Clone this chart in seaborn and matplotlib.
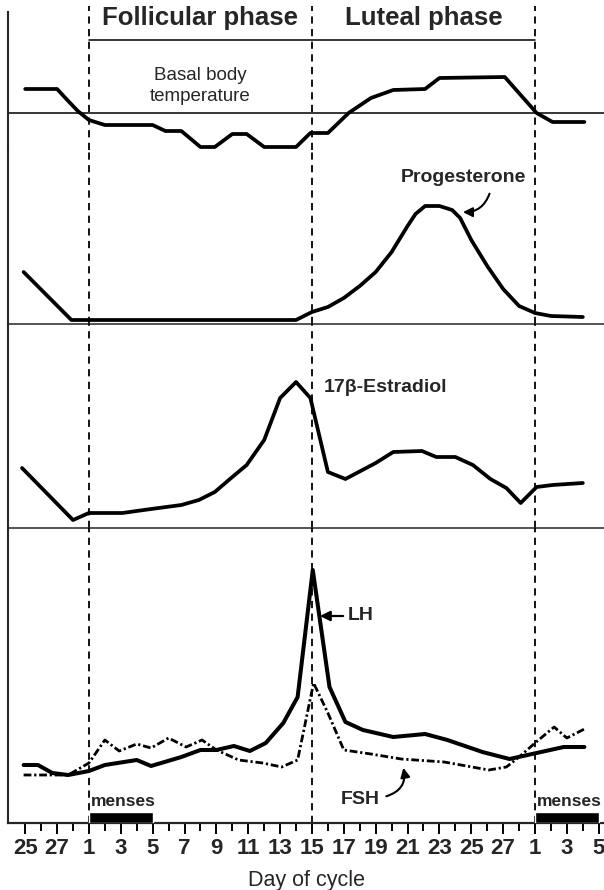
import numpy as np
import pandas as pd
import matplotlib.pyplot as plt
import seaborn as sns

# day axis: previous cycle 25..28 -> -3..0, this cycle 1..28, next cycle 1..5 -> 29..33
day_ticks = list(range(-3, 34))
label_ticks = list(range(-3, 34, 2))
tick_labels = ['25', '27'] + [str(d) for d in range(1, 28, 2)] + ['1', '3', '5']

phase_days = [1, 15, 29]
phase_names = ['Follicular phase', 'Luteal phase']
menses_start = [1, 29]
menses_len = 4

# basal body temperature, relative to the reference line
temp_day = [-3, -1, -0.3, 0.3, 1, 2, 5, 5.8, 6.8, 8, 8.9, 10, 10.9, 12, 14, 14.9, 16,
            17.3, 18.7, 20.1, 22.1, 23, 27.1, 29.1, 30.1, 32.1]
temp_val = [24, 24, 12, 2, -7, -12, -12, -18, -18, -34, -34, -21, -21, -34, -34, -20, -20,
            0, 15, 23, 24, 35, 36, 0, -9, -9]

# progesterone
prog_day = [-3.1, -0.1, 14, 15, 16, 17, 18, 19, 20, 21, 21.5, 22.1, 23, 23.8, 24.3, 25, 26,
            27, 28, 29, 30, 32]
prog_val = [52, 4, 4, 12, 17, 26, 38, 52, 72, 98, 110, 118, 118, 114, 106, 84, 58, 35, 18,
            11, 8, 7]

# 17b-estradiol
e2_day = [-3.2, 0, 1, 3.1, 4.9, 6.8, 7.9, 8.9, 10, 10.9, 12, 13, 14, 14.9, 16, 17.1, 19,
          20.1, 21.9, 22.8, 24, 25.1, 26.2, 27.2, 28.1, 29.1, 30.1, 32]
e2_val = [60, 8, 15, 15, 19, 23, 28, 36, 51, 63, 88, 130, 146, 130, 56, 49, 65, 76, 77, 71,
          71, 63, 49, 40, 25, 41, 43, 45]

# LH
lh_day = [-3.1, -2.2, -1.3, -0.3, 1, 2, 4, 4.9, 6.8, 8, 9, 10.1, 11.1, 12.1, 13.2, 14.1,
          15.05, 16.1, 17.1, 18.2, 20.1, 22.1, 23.5, 25.7, 27.4, 29.1, 30.8, 32.1]
lh_val = [58, 58, 50, 48, 52, 58, 63, 57, 66, 73, 73, 77, 72, 80, 100, 126, 253, 136, 101,
          93, 86, 89, 83, 71, 64, 70, 76, 76]

# FSH
fsh_day = [-3.1, -1.4, -0.3, 1, 2, 2.9, 4, 4.9, 6, 7.1, 8.1, 9, 10.4, 11.9, 13.1, 14.1,
           15.1, 16, 17, 18.7, 20.6, 23.3, 26.1, 27.2, 28, 29, 30.2, 31, 32.1]
fsh_val = [48, 48, 48, 60, 83, 72, 79, 75, 85, 76, 83, 73, 63, 60, 56, 63, 140, 110, 73, 69,
           64, 61, 53, 56, 66, 80, 96, 85, 94]

sns.set_theme(style='ticks')
plt.rcParams['font.family'] = ['Liberation Sans', 'DejaVu Sans']

W, H = 604, 890
fig = plt.figure(figsize=(W / 100, H / 100), dpi=100)
left = 8 / W


def panel(top, bottom):
    ax = fig.add_axes([left, (H - bottom) / H, 1 - left, (bottom - top) / H])
    ax.set_facecolor('none')
    ax.set_xlim(-4.08, 33.33)
    ax.set_yticks([])
    for s in ['top', 'right']:
        ax.spines[s].set_visible(False)
    ax.spines['left'].set_linewidth(1.5)
    ax.spines['bottom'].set_linewidth(1.1)
    for d in phase_days:
        ax.axvline(d, color='black', lw=1.3, ls=(0, (4, 3)), zorder=1)
    return ax


ax_temp = panel(6, 150)
ax_prog = panel(150, 324)
ax_e2 = panel(324, 528)
ax_lh = panel(528, 823)

ax_temp.set_ylim(-37, 107)
ax_prog.set_ylim(0, 174)
ax_e2.set_ylim(0, 204)
ax_lh.set_ylim(0, 295)

for ax in [ax_temp, ax_prog, ax_e2]:
    ax.set_xticks([])
    ax.tick_params(bottom=False, labelbottom=False)
ax_temp.spines['bottom'].set_visible(False)
ax_temp.spines['left'].set_bounds(-37, 101)

lw = 2.7
sns.lineplot(x=temp_day, y=temp_val, ax=ax_temp, color='black', lw=lw)
sns.lineplot(x=prog_day, y=prog_val, ax=ax_prog, color='black', lw=lw)
sns.lineplot(x=e2_day, y=e2_val, ax=ax_e2, color='black', lw=lw)
sns.lineplot(x=fsh_day, y=fsh_val, ax=ax_lh, color='black', lw=2.0,
             linestyle=(0, (2.8, 1, 0.8, 1)))
sns.lineplot(x=lh_day, y=lh_val, ax=ax_lh, color='black', lw=2.9)

# temperature reference line and phase header
ax_temp.axhline(0, color='black', lw=1.1)
tr = ax_temp.get_xaxis_transform()
ax_temp.plot([phase_days[0], phase_days[-1]], [0.764, 0.764], transform=tr,
             color='black', lw=1.1)
for name, a, b in zip(phase_names, phase_days[:-1], phase_days[1:]):
    ax_temp.text((a + b) / 2, 0.92, name, transform=tr, ha='center', va='center',
                 fontsize=18.5, fontweight='bold')
ax_temp.text(8, 27, 'Basal body\ntemperature', ha='center', va='center', fontsize=13.5,
             linespacing=1.25)

# labels with arrows
ax_prog.text(24.5, 146, 'Progesterone', ha='center', va='center', fontsize=14,
             fontweight='bold')
ax_prog.annotate('', xy=(24.3, 112), xytext=(26.2, 133),
                 arrowprops=dict(arrowstyle='-|>', color='black', lw=1.5,
                                 mutation_scale=14, connectionstyle='arc3,rad=-0.4'))
ax_e2.text(15.75, 140, '17\u03b2-Estradiol', ha='left', va='center', fontsize=14,
           fontweight='bold')
ax_lh.annotate('LH', xy=(15.5, 207), xytext=(17.25, 207), ha='left', va='center',
               fontsize=14, fontweight='bold',
               arrowprops=dict(arrowstyle='-|>', color='black', lw=1.6, mutation_scale=15,
                               shrinkA=1, shrinkB=0))
ax_lh.text(18, 23, 'FSH', ha='center', va='center', fontsize=14, fontweight='bold')
ax_lh.annotate('', xy=(20.7, 58), xytext=(19.5, 26),
               arrowprops=dict(arrowstyle='-|>', color='black', lw=1.5, mutation_scale=14,
                               connectionstyle='arc3,rad=0.5'))

# menses bars
ax_lh.bar(menses_start, [11] * len(menses_start), width=menses_len, align='edge',
          color='black', zorder=3)
for d in menses_start:
    ax_lh.text(d + 0.1, 21, 'menses', ha='left', va='center', fontsize=12.5,
               fontweight='bold')

# x axis
ax_lh.set_xticks(label_ticks)
ax_lh.set_xticklabels(tick_labels, fontsize=16, fontweight='bold')
ax_lh.set_xticks(day_ticks, minor=True)
ax_lh.tick_params(axis='x', which='major', length=8, width=1.4, direction='out', pad=3,
                  color='black')
ax_lh.tick_params(axis='x', which='minor', length=5.5, width=1.4, direction='out',
                  color='black')
ax_lh.spines['bottom'].set_linewidth(1.6)
ax_lh.set_xlabel('Day of cycle', fontsize=15.5, labelpad=8)

fig.savefig('out.png', dpi=100)
